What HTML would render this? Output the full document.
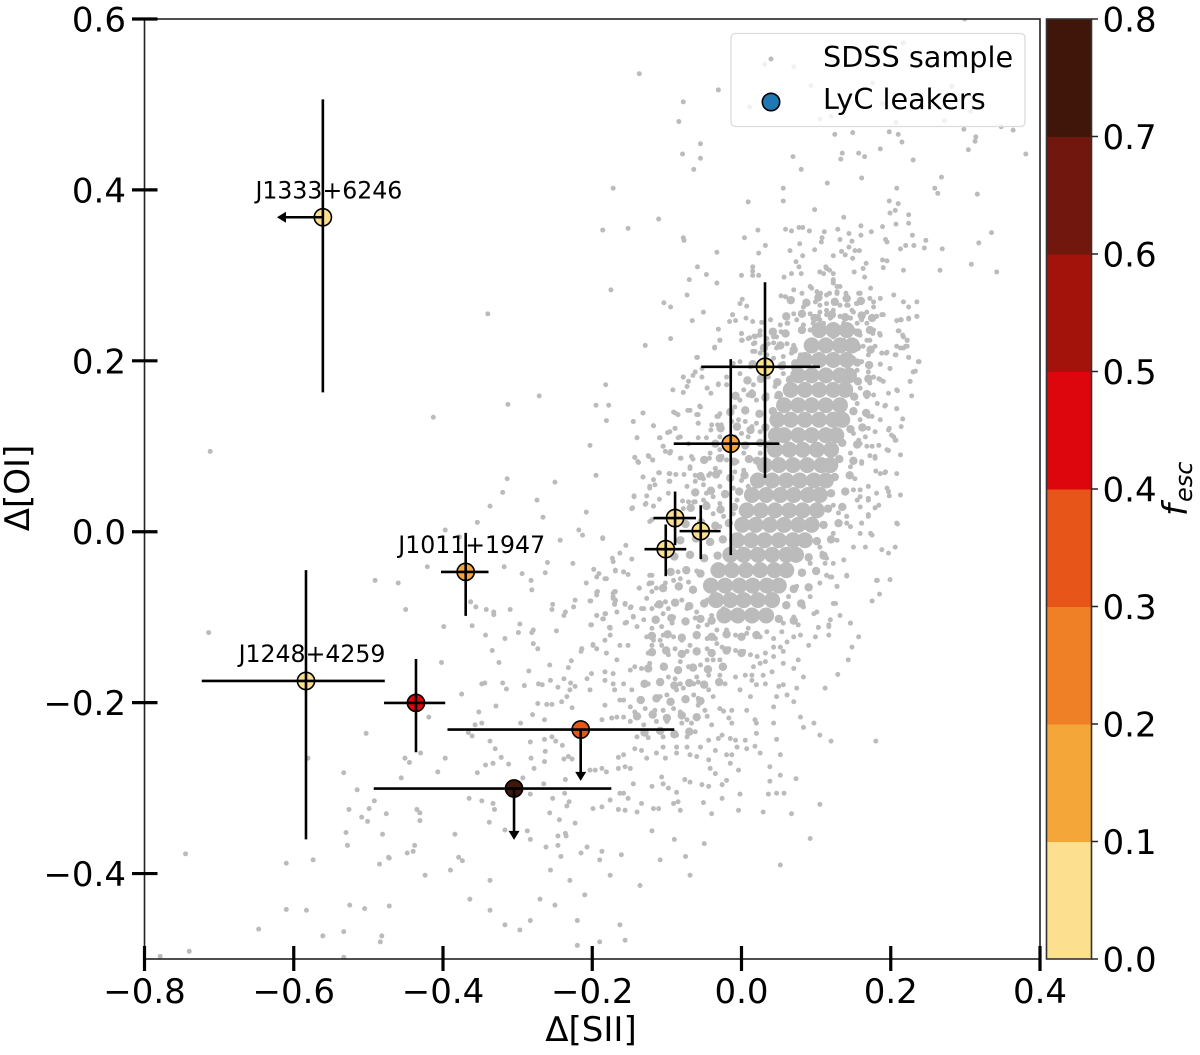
<!DOCTYPE html>
<html lang="en">
<head>
<meta charset="utf-8">
<title>Delta SII vs Delta OI</title>
<style>
html,body{margin:0;padding:0;background:#fff;}
svg{display:block;font-family:"DejaVu Sans","Liberation Sans",sans-serif;}
</style>
</head>
<body>
<svg id="chart" xmlns="http://www.w3.org/2000/svg" width="1200" height="1055" viewBox="0 0 1200 1055">
<defs><clipPath id="plot-clip"><rect x="144.5" y="19" width="895.5" height="940"/></clipPath></defs>
<g id="points" clip-path="url(#plot-clip)"></g>
<g id="leakers"></g>
<g id="axes"></g>
<g id="colorbar"></g>
<g>
<rect x="731" y="33.5" width="294" height="93" rx="4" fill="#fff" fill-opacity="0.8" stroke="#dcdcdc" stroke-width="1.3"/>
<circle cx="771" cy="59" r="2.5" fill="#bbb"/>
<text x="823" y="67" font-size="28.7" fill="#000">SDSS sample</text>
<circle cx="771" cy="102" r="8.7" fill="#1f77b4" stroke="#000" stroke-width="1.6"/>
<text x="823" y="109" font-size="28.7" fill="#000">LyC leakers</text>
</g>
<text x="591" y="1041" font-size="34" text-anchor="middle" fill="#000">Δ[SII]</text>
<text transform="translate(29,488) rotate(-90)" font-size="34" text-anchor="middle" fill="#000">Δ[OI]</text>
<text transform="translate(1187,516) rotate(-90)" fill="#000" font-style="italic" font-size="34">f<tspan font-size="24" dy="5" dx="2">esc</tspan></text>
</svg>
<script>
// SDSS comparison sample values: [delta SII, delta OI]
const sdssCoreClumps = [
[.104,.236],[.123,.236],[.141,.236],
[.094,.218],[.113,.218],[.132,.218],[.148,.218],
[.085,.201],[.104,.201],[.123,.201],[.141,.201],
[.076,.183],[.094,.183],[.113,.183],[.132,.183],[.144,.183],
[.066,.166],[.085,.166],[.104,.166],[.123,.166],[.139,.166],
[.057,.148],[.076,.148],[.094,.148],[.113,.148],[.132,.148],
[.048,.131],[.066,.131],[.085,.131],[.104,.131],[.123,.131],[.135,.131],
[.046,.113],[.057,.113],[.076,.113],[.094,.113],[.113,.113],[.127,.113],
[.045,.096],[.064,.096],[.082,.096],[.101,.096],[.120,.096],
[.031,.078],[.050,.078],[.069,.078],[.088,.078],[.107,.078],[.119,.078],
[.022,.060],[.041,.060],[.060,.060],[.078,.060],[.097,.060],[.113,.060],
[.014,.043],[.033,.043],[.052,.043],[.070,.043],[.089,.043],[.105,.043],
[.007,.025],[.026,.025],[.045,.025],[.064,.025],[.082,.025],[.101,.025],
[.001,.008],[.019,.008],[.038,.008],[.057,.008],[.076,.008],[.094,.008],
[-.006,-.010],[.013,-.010],[.031,-.010],[.050,-.010],[.069,-.010],[.085,-.010],
[-.015,-.027],[.003,-.027],[.022,-.027],[.041,-.027],[.060,-.027],[.073,-.027],
[-.031,-.045],[-.013,-.045],[.006,-.045],[.025,-.045],[.044,-.045],[.060,-.045],
[-.041,-.063],[-.022,-.063],[-.003,-.063],[.015,-.063],[.034,-.063],[.050,-.063],
[-.034,-.080],[-.015,-.080],[.003,-.080],[.022,-.080],[.041,-.080],
[-.023,-.098],[-.005,-.098],[.014,-.098],[.033,-.098]
];
const sdssMidDensity = [
[.066,.271],[.087,.268],[.103,.274],[.125,.269],[.141,.273],[.160,.270],
[.060,.252],[.081,.255],[.098,.250],[.121,.254],[.139,.251],[.161,.253],[.175,.250],
[.042,.234],[.059,.232],[.081,.236],[.156,.233],[.172,.236],
[.030,.215],[.052,.218],[.070,.213],[.155,.216],[.173,.213],
[.015,.196],[.037,.198],[.054,.194],[.072,.197],[.155,.198],[.171,.195],
[.008,.177],[.026,.179],[.048,.175],[.065,.178],[.156,.176],[.170,.179],
[-.008,.159],[.014,.161],[.032,.157],[.050,.160],[.151,.158],[.168,.161],
[-.015,.140],[.005,.142],[.024,.138],[.042,.141],[.150,.141],[.167,.139],
[-.028,.121],[-.006,.123],[.012,.119],[.032,.122],[.146,.120],[.162,.122],
[-.035,.103],[-.014,.105],[.005,.101],[.025,.104],[.037,.102],[.135,.104],[.155,.102],
[-.050,.084],[-.029,.086],[-.010,.082],[.010,.085],[.021,.083],[.131,.085],[.150,.083],
[-.055,.065],[-.034,.067],[-.015,.063],[.004,.066],[.125,.064],[.145,.066],
[-.062,.046],[-.041,.048],[-.022,.044],[-.003,.047],[.120,.045],[.139,.047],
[-.068,.028],[-.047,.030],[-.028,.026],[-.010,.029],[.116,.027],[.135,.029],
[-.075,.009],[-.054,.011],[-.035,.007],[-.017,.010],[.110,.008],[.130,.010],
[-.082,-.010],[-.061,-.008],[-.042,-.012],[-.025,-.009],[.101,-.011],[.120,-.009],
[-.090,-.029],[-.069,-.027],[-.050,-.031],[-.032,-.028],[.090,-.030],[.110,-.028],
[-.095,-.047],[-.074,-.045],[-.055,-.049],[.081,-.048],[.100,-.046],
[-.105,-.066],[-.084,-.064],[-.065,-.068],[.070,-.067],[.090,-.065],
[-.110,-.085],[-.089,-.083],[-.070,-.087],[-.050,-.084],[.060,-.086],[.080,-.084],
[-.115,-.103],[-.094,-.101],[-.075,-.105],[-.055,-.102],[-.040,-.104],[.050,-.102],[.070,-.104],
[-.120,-.122],[-.099,-.120],[-.080,-.124],[-.060,-.121],[-.040,-.123],[-.020,-.120],[.000,-.123],[.020,-.121],
[-.120,-.141],[-.101,-.139],[-.080,-.143],[-.060,-.140],[-.040,-.142],[-.020,-.139],[.000,-.142],
[-.125,-.160],[-.104,-.158],[-.085,-.162],[-.065,-.159],[-.045,-.161],[-.025,-.158],
[-.130,-.178],[-.109,-.176],[-.090,-.180],[-.070,-.177],[-.050,-.179],[-.030,-.176],
[-.135,-.197],[-.114,-.195],[-.095,-.199],[-.075,-.196],[-.055,-.198],
[-.140,-.216],[-.119,-.214],[-.100,-.218],[-.080,-.215],[-.060,-.217],
[-.130,-.235],[-.109,-.233],[-.090,-.237],[-.070,-.234]
];
const sdssUpperPoints = [
[-.137,.536],[-.031,.517],[-.078,.503],[-.084,.480],[-.055,.454],[-.079,.442],[-.055,.437],[-.064,.424],[-.172,.402],[.069,.439],[.080,.424],[.056,.402],[.115,.408],[.161,.414],[.125,.465],[.149,.467],[.198,.468],[.210,.465],[.215,.456],[.186,.448],[.135,.443],[.133,.436],[.157,.443],[.165,.439],[.230,.435],[.298,.471],[.314,.462],[.313,.457],[.304,.447],[.348,.474],[.364,.470],[.381,.442],[.268,.415],[.259,.402],[.263,.396],[.316,.395],[.208,.402],[.198,.387],[.210,.384],[.009,.386],[.056,.387],[.098,.377],[.137,.368],[.206,.376],[.199,.373],[.224,.371],[.224,.361],[.207,.360],[.189,.357],[.160,.358],[-.111,.366],[-.152,.355],[-.186,.353],[.022,.353],[.059,.354],[.067,.352],[.077,.356],[.082,.356],[.091,.352],[.111,.351],[.129,.354],[.144,.349],[.160,.347],[.174,.351],[.229,.347],[.335,.350],[-.078,.344],[-.077,.341],[.004,.344],[.108,.344],[.107,.339],[.132,.342],[.148,.340],[.193,.342],[.195,.339],[.247,.341],[.318,.338],[.032,.335],[.078,.337],[.065,.329],[.098,.330],[-.033,.327],[.023,.326],[.144,.333],[.220,.335],[.231,.335],[.245,.332],[.269,.331],[.213,.331],[.134,.328],[.152,.329],[.158,.329],[.123,.323],[.139,.324],[.082,.323],[-.059,.310],[-.047,.301],[-.070,.295],[-.033,.291],[.015,.310],[.015,.305],[.015,.300],[.000,.300],[.023,.300],[.308,.313],[.342,.304],[.266,.306],[.217,.306],[.190,.309],[.189,.318],[.195,.317],[.149,.320],[.167,.314],[.163,.308],[.151,.304],[.165,.298],[.073,.316],[.077,.310],[.067,.302],[.057,.298],[.080,.302],[.105,.304],[.113,.310],[.123,.302],[.118,.306],[-.073,.277],[-.104,.268],[-.095,.263],[-.051,.257],[-.066,.247],[-.031,.237],[-.029,.224],[-.095,.226],[-.129,.218],
[.031,.547],[.070,.544],[.217,.572],[.093,.522],[.176,.525],[.282,.521],[.011,.497],[.189,.501],[.307,.492],[.105,.483],[.120,.486],[.207,.479],[.272,.481],[.299,.600]
];
const sdssHaloPoints = [
[-.002,.267],[.001,.272],[.007,.264],[-.012,.254],[-.016,.246],[-.008,.247],[.006,.250],[.015,.246],[.027,.245],[.039,.248],[.000,.232],[.011,.227],[.001,.224],[.017,.229],[.023,.230],[.025,.235],[.018,.221],[.015,.211],[.025,.209],[.036,.220],[.043,.221],[.047,.228],[.053,.234],[.059,.232],[.052,.242],[.062,.244],[.053,.276],[.059,.275],[.070,.283],[.081,.279],[.094,.285],[.106,.279],[.118,.279],[.128,.279],[.140,.279],[.157,.279],[.173,.285],[.186,.273],[.204,.277],[.217,.269],[.224,.263],[.235,.269],[.177,.269],[.168,.257],[.190,.254],[.208,.247],[.214,.248],[.224,.250],[.235,.252],[.181,.252],[.176,.232],[.185,.232],[.211,.235],[.216,.230],[.222,.224],[.220,.217],[.213,.215],[.188,.209],[.194,.209],[.206,.207],[.224,.204],[.238,.199],[.186,.196],[.199,.191],[.233,.188],[.226,.176],
[-.036,.215],[-.059,.204],[-.182,.172],[-.092,.166],[-.178,.148],[-.132,.139],[-.181,.130],[-.145,.129],[-.118,.124],[-.089,.139],[-.072,.142],[-.060,.137],[-.140,.110],[-.110,.110],[-.099,.116],[-.089,.121],[-.046,.168],[-.078,.181],[-.071,.176],[-.062,.187],[-.031,.172],[-.055,.146],[-.058,.127],[-.031,.135],[-.032,.125],[-.041,.119],[-.082,.111],[-.105,.100],[-.095,.094],[-.143,.087],[-.124,.088],[-.119,.084],[-.139,.082],[-.082,.086],[-.067,.088],[-.042,.092],[-.026,.088],[-.069,.076],[-.062,.066],[-.042,.068],[-.035,.074],[-.132,.064],[-.110,.069],[-.097,.068],[-.088,.067],[-.077,.067],[-.116,.055],[-.123,.051],[-.144,.042],[-.146,.028],[-.129,.032],[-.118,.030],[-.096,.059],[-.098,.045],[-.073,.053],[-.051,.055],[-.047,.045],[-.062,.035],[-.051,.037],[-.120,.014],[-.123,.012],[-.186,-.007],
[.184,.179],[.190,.176],[.208,.166],[.208,.144],[.193,.148],[.177,.160],[.198,.121],[.204,.111],[.207,.107],[.195,.096],[.179,.088],[.168,.100],[.186,.068],[.193,.070],[.161,.082],[.208,.068],[.213,.043],[.197,.047],[.181,.045],[.170,.037],[.159,.049],[.155,.037],[.141,.018],[.141,.010],[.161,.010],[.170,.020],[.184,.031],[.208,.010],[.173,-.002],[.150,-.018],[.166,-.018],[.188,-.021],[.197,-.025],[.206,-.018],[.119,-.053],[.141,-.051],[.128,-.064],[.181,-.057],[.199,-.056],[.185,-.073],[.123,-.084],[.146,-.107],[.117,-.109]
];
const sdssCoreLeftPoints = [
[.061,.244],[.074,.248],[.083,.242],[.043,.228],[.034,.226],[.025,.230],[.018,.228],[.009,.226],[.000,.224],[.016,.220],[.000,.232],[-.029,.224],[-.036,.216],[.018,.211],[.029,.217],[.047,.215],[.061,.220],[.070,.218],[.079,.207],[.067,.209],[.056,.205],[.043,.203],[.034,.207],[.025,.197],[.012,.193],[-.002,.199],[-.011,.197],[-.060,.204],[-.053,.191],[-.065,.183],[-.078,.181],[-.073,.170],[-.053,.181],[-.078,.163],[-.046,.168],[-.041,.162],[-.031,.173],[-.020,.172],[-.020,.181],[-.002,.185],[.007,.177],[.016,.172],[.025,.177],[.036,.181],[.045,.170],[.056,.185],[.070,.191],[.081,.187],[.065,.174],[.047,.158],[.034,.160],[.020,.154],[.009,.160],[-.002,.154],[-.009,.146],[.014,.164],[.003,.166],[.056,.197],[.083,.205],[-.058,.137],[-.056,.147],[-.069,.142],[-.091,.140],[-.085,.137],[-.058,.127],[-.029,.138],[-.033,.135],[-.040,.125],[-.027,.125],[-.013,.129],[-.004,.131],[.005,.129],[.014,.123],[.020,.127],[.025,.117],[.009,.111],[.000,.115],[-.009,.111],[-.029,.111],[-.047,.110],[-.058,.110],[-.071,.103],[-.085,.110],[-.105,.100],[-.102,.094],[-.096,.092],[-.109,.110],[-.096,.117],[-.118,.124],[-.089,.121],[-.140,.110],[-.145,.129],[-.132,.139],[-.143,.087],[-.138,.081],[-.125,.089],[-.119,.084],[-.081,.086],[-.065,.085],[-.043,.086],[-.029,.096],[.025,.092],[.018,.084],[.003,.092],[-.006,.082],[-.020,.084],[.003,.072],[-.009,.070],[-.029,.070],[-.035,.074],[-.044,.066],[-.051,.062],[-.062,.059],[-.069,.074],[-.096,.068],[-.111,.069],[-.118,.061],[-.132,.064],[-.097,.059],[-.123,.053],[-.127,.042],[-.144,.041],[-.128,.033],[-.118,.030],[-.110,.038],[-.147,.027],[-.079,.036],[-.071,.035],[-.064,.035],[-.078,.027],
[-.029,.053],[-.038,.041],[-.047,.033],[-.029,.033],[-.038,.021],[-.024,.018],[-.029,.006],[-.011,.051],[-.006,.037],[-.011,.021],[-.002,.006],[.000,.060],[.009,.053]
];
const sdssCoreRightPoints = [
[.213,.248],[.224,.249],[.235,.252],[.210,.235],[.217,.228],[.222,.224],[.208,.217],[.222,.217],[.217,.215],[.207,.207],[.224,.204],[.195,.210],[.188,.209],[.199,.191],[.186,.196],[.237,.199],[.230,.187],[.226,.176],[.209,.165],[.228,.159],[.197,.162],[.192,.147],[.182,.150],[.208,.144],[.216,.132],[.197,.119],[.214,.123],[.201,.113],[.206,.107],[.213,.090],[.197,.095],[.192,.069],[.180,.071],[.172,.089],[.179,.086],[.161,.080],[.175,.100],[.166,.111],[.179,.117],[.170,.121],[.186,.131],[.175,.135],[.184,.101],[.186,.178],[.170,.187],[.177,.181],[.172,.174],[.159,.168],[.168,.158],[.155,.150],[.170,.135],[.159,.131],[.150,.115],[.159,.103],[.146,.092],[.157,.107],[.146,.076],[.152,.062],[.170,.053],[.150,.049],[.159,.041],[.195,.051],[.198,.042],[.170,.039],[.179,.028],[.159,.029],[.170,.018],[.209,.009],[.141,.018],[.130,.022],[.123,.031],[.146,.006],[.161,.010],[.175,-.004],[.159,-.002],[.123,-.002],[.132,.010],
[.092,.287],[.101,.281],[.123,.291],[.128,.281],[.105,.265],[.114,.267],[.123,.259],[.132,.265],[.143,.265],[.154,.267],[.150,.257],[.161,.248],[.146,.250],[.132,.252],[.114,.254],[.105,.248],[.096,.244],[.092,.236],[.105,.236],[.123,.240],[.137,.236],[.150,.236],[.159,.230],[.168,.224],[.150,.220],[.137,.224],[.123,.228],[.083,.263],[.070,.255],[.092,.255],[.110,.302],[.114,.308],[.123,.295],[.132,.287],[.159,.279],[.172,.273],[.177,.263],[.188,.254],[.181,.252],[.168,.244],[.177,.236],[.186,.230],[.172,.224],[.163,.217],[.179,.217],[.170,.207],[.161,.199],[.150,.203],[.155,.189],
[.105,.257],[.114,.259],[.123,.255],[.132,.252],[.141,.265],[.148,.259],[.155,.267],[.103,.252],[.110,.244],[.119,.250],[.137,.244],[.146,.250],[.155,.244],[.128,.287],[.123,.294],[.128,.279],[.114,.277],[.099,.269]
];
const sdssLowerPoints = [
[-.155,-.016],[-.163,-.025],[-.173,-.031],[-.172,-.035],[-.147,-.032],[-.183,-.055],[-.169,-.045],[-.158,-.047],[-.137,-.066],[-.123,-.051],[-.120,-.060],[-.172,-.072],[-.156,-.084],[-.148,-.088],[-.169,-.080],[-.183,-.096],[-.177,-.112],[-.154,-.106],[-.145,-.099],[-.134,-.090],
[-.491,-.057],[-.460,-.060],[-.450,-.091],[-.421,-.041],[-.714,-.118],[-.399,-.111],[-.361,-.110],[-.402,-.153],[-.375,-.190],[-.343,-.121],[-.317,-.125],[-.334,-.139],[-.325,-.153],[-.299,-.118],[-.297,-.108],[-.352,-.211],[-.329,-.204],[-.419,-.217],[-.503,-.236],[-.357,-.226],[-.348,-.224],[-.366,-.235],[-.361,-.239],[-.337,-.245],[-.330,-.254],[-.430,-.259],[-.451,-.265],[-.445,-.270],[-.397,-.265],[-.581,-.265],[-.322,-.264],[-.333,-.271],[-.343,-.273],[-.312,-.272],[-.354,-.282],[-.407,-.281],[-.533,-.282],[-.456,-.288],[-.515,-.302],[-.492,-.315],[-.526,-.325],[-.499,-.324],[-.509,-.334],[-.501,-.339],[-.476,-.330],[-.435,-.325],[-.431,-.329],[-.530,-.352],[-.481,-.354],[-.528,-.367],[-.384,-.354],[-.745,-.377],[-.448,-.376],[-.440,-.374],[-.473,-.381],[-.379,-.381],[-.365,-.312],[-.348,-.315],[-.333,-.318],[-.331,-.325],[-.338,-.340],[-.317,-.349],[-.287,-.350],[-.283,-.360],[-.283,-.307],[-.293,-.288],[-.265,-.295],[-.236,-.290],[-.253,-.312],[-.237,-.306],[-.231,-.316],[-.234,-.321],[-.257,-.329],[-.244,-.337],[-.223,-.341],[-.246,-.356],[-.236,-.353],[-.235,-.356],[-.262,-.369],[-.246,-.367],[-.242,-.380],[-.215,-.376],[-.207,-.369],[-.187,-.374],[-.161,-.378],
[-.282,-.057],[-.281,-.068],[-.294,-.049],[-.318,-.041],[-.263,-.048],[-.260,-.036],[-.226,-.037],[-.253,-.085],[-.254,-.091],[-.223,-.080],[-.225,-.088],[-.236,-.094],[-.238,-.098],[-.332,-.094],[-.332,-.097],[-.342,-.091],[-.356,-.088],[-.363,-.082],[-.310,-.091],[-.279,-.115],[-.281,-.118],[-.248,-.116],[-.201,-.109],[-.194,-.098],[-.182,-.096],[-.186,-.102],[-.176,-.112],[-.279,-.131],[-.273,-.137],[-.214,-.137],[-.215,-.140],[-.199,-.132],[-.194,-.137],[-.257,-.156],[-.285,-.163],[-.232,-.159],[-.228,-.151],[-.238,-.172],[-.256,-.174],[-.272,-.178],[-.267,-.179],[-.291,-.180],[-.315,-.184],[-.320,-.177],[-.348,-.178],[-.344,-.177],[-.229,-.177],[-.230,-.185],[-.246,-.182],[-.223,-.181],[-.261,-.202],[-.254,-.202],[-.273,-.201],[-.234,-.193],[-.241,-.199],[-.227,-.206],[-.280,-.214],[-.264,-.220],[-.296,-.224],[-.283,-.246],[-.264,-.243],[-.254,-.240],[-.249,-.245],[-.240,-.250],[-.263,-.257],[-.282,-.265],[-.264,-.269],[-.278,-.277],[-.238,-.266],[-.232,-.263],[-.227,-.266],
[-.198,-.044],[-.191,-.049],[-.194,-.053],[-.169,-.046],[-.158,-.047],[-.152,-.050],[-.181,-.055],[-.208,-.060],[-.193,-.070],[-.194,-.074],[-.169,-.070],[-.172,-.076],[-.202,-.081],[-.169,-.081],[-.170,-.085],[-.156,-.085],[-.148,-.088],[-.137,-.066],[-.124,-.061],[-.213,-.004],[-.186,-.008]
];
const sdssTailPoints = [
[-.085,-.047],[-.073,-.047],[-.060,-.046],[-.082,-.055],[-.071,-.059],[-.091,-.057],[-.102,-.060],[-.120,-.051],[-.123,-.060],[-.114,-.066],[-.120,-.070],[-.127,-.078],[-.137,-.066],[-.170,-.070],[-.172,-.078],[-.156,-.084],[-.149,-.089],[-.170,-.084],[-.167,-.094],[-.194,-.098],[-.185,-.102],[-.203,-.081],[-.194,-.071],[-.131,-.090],[-.120,-.090],[-.114,-.086],[-.102,-.082],[-.098,-.090],[-.105,-.096],[-.091,-.100],[-.080,-.080],[-.073,-.090],[-.060,-.094],[-.062,-.101],[-.046,-.080],[-.033,-.082],[-.024,-.090],[-.040,-.098],[-.024,-.100],[-.011,-.098],[-.002,-.100],
[-.058,-.111],[-.046,-.109],[-.033,-.115],[-.020,-.115],[-.008,-.121],[.007,-.119],[.020,-.100],[.029,-.103],[.025,-.123],[.034,-.117],[.009,-.113],[-.093,-.107],[-.107,-.111],[-.120,-.113],[-.131,-.103],[-.145,-.100],[-.156,-.107],[-.140,-.111],[-.176,-.113],[-.202,-.109],[-.127,-.123],[-.120,-.121],[-.105,-.121],[-.091,-.123],[-.080,-.127],[-.069,-.133],[-.060,-.123],[-.046,-.125],[-.035,-.125],[-.026,-.135],[-.017,-.137],[-.008,-.139],[.003,-.140],[.012,-.144],[.021,-.146],[.032,-.142],[.043,-.135],[.052,-.135],[.061,-.129],[.070,-.123],[.079,-.121],[.090,-.133],[.099,-.123],[.117,-.121],[.117,-.111],[.103,-.112],[.076,-.109],[.054,-.117],[.043,-.125],[.056,-.107],[.119,-.103],[.132,-.098],[.146,-.107],[.157,-.123],[.148,-.135],[.143,-.150],[.129,-.167],[.112,-.183],[.076,-.150],[.070,-.160],[.083,-.170],[.056,-.140],[.056,-.154],[.043,-.146],[.032,-.152],[.025,-.154],[.016,-.158],[.014,-.168],[.029,-.168],[.041,-.164],[.050,-.181],[.056,-.179],[.074,-.183],[.047,-.193],[.061,-.191],[.070,-.199],[.043,-.205],[.079,-.217],[.097,-.224],[.083,-.229],[.105,-.238],[.120,-.245],[.180,-.245],[.052,-.261],[.038,-.275],[.052,-.285],[.073,-.289],[.038,-.292],[.036,-.307],[.047,-.306],[.057,-.306],[.105,-.319],[.067,-.330],[.029,-.328],[-.004,-.326],[-.002,-.307],[-.051,-.317],[-.026,-.312],[-.040,-.330],[-.091,-.318],[-.085,-.316],[-.082,-.326],[-.118,-.324],[-.111,-.324],[-.134,-.318],[-.140,-.328],[-.156,-.326],[-.165,-.325],[-.176,-.314],[-.199,-.324],[-.187,-.322],[-.158,-.306],[-.163,-.306],[-.152,-.312],[-.145,-.295],[-.120,-.298],[-.107,-.287],[-.105,-.295],[-.098,-.300],[-.087,-.305],[-.076,-.290],[-.069,-.293],[-.053,-.296],[-.044,-.298],[-.026,-.296],[-.020,-.291],[-.035,-.283],[-.042,-.277],[-.004,-.279],[-.015,-.271],[-.020,-.261],[-.013,-.261],[-.035,-.256],[-.044,-.267],[-.060,-.263],[-.069,-.261],[-.073,-.252],[-.055,-.252],[-.087,-.252],[-.087,-.259],[-.105,-.252],[-.102,-.265],[-.114,-.259],[-.127,-.265],[-.134,-.256],[-.143,-.254],[-.158,-.261],[-.165,-.264],[-.156,-.275],[-.149,-.277],[-.165,-.277],[-.181,-.281],[-.187,-.277],[-.196,-.279],[-.203,-.279],[-.140,-.240],[-.125,-.241],[-.105,-.240],[-.087,-.238],[-.073,-.240],[-.062,-.234],[-.044,-.244],[-.031,-.242],[-.026,-.238],[-.015,-.242],[-.008,-.244],[.005,-.244],[.018,-.251],[.025,-.259],[-.006,-.252],[.007,-.254],[.020,-.236],[.047,-.243],
[-.073,-.220],[-.067,-.224],[-.080,-.224],[-.046,-.216],[-.040,-.226],[-.029,-.207],[-.024,-.210],[-.013,-.209],[.007,-.209],[.018,-.220],[.020,-.224],[-.013,-.224],[-.017,-.218],[.043,-.224],[-.064,-.191],[-.058,-.195],[-.058,-.203],[-.049,-.209],[-.091,-.207],[-.082,-.211],[-.105,-.209],[-.116,-.209],[-.129,-.207],[-.143,-.211],[-.149,-.205],[-.163,-.197],[-.158,-.197],[-.183,-.203],[-.187,-.220],[-.174,-.218],[-.167,-.217],[-.158,-.217],[-.149,-.222],[-.131,-.226],[-.114,-.222],[-.100,-.222],[-.109,-.193],[-.100,-.191],[-.087,-.185],[-.078,-.183],[-.098,-.170],[-.089,-.172],[-.082,-.178],[-.064,-.178],[-.058,-.176],[-.044,-.185],[-.038,-.193],[-.022,-.178],[-.008,-.170],[.005,-.168],[-.002,-.185],[.014,-.174],[.012,-.193],[.020,-.179],[.032,-.178],[-.125,-.178],[-.147,-.185],[-.158,-.178],[-.172,-.178],[-.183,-.174],[-.201,-.166],[-.207,-.172],[-.203,-.185],[-.170,-.185],[-.183,-.164],[-.172,-.166],[-.149,-.162],[-.143,-.158],[-.134,-.160],[-.123,-.154],[-.105,-.156],[-.098,-.144],[-.082,-.152],[-.071,-.158],[-.055,-.156],[-.046,-.150],[-.038,-.150],[-.029,-.150],[-.060,-.170],[-.044,-.168],[-.029,-.168],[-.125,-.142],[-.120,-.133],[-.107,-.133],[-.089,-.137],[-.073,-.140],[-.060,-.142],[-.046,-.137],[-.033,-.131],[-.163,-.133],[-.152,-.133],[-.181,-.142],[-.167,-.150],[-.199,-.133],[-.183,-.127],[-.176,-.121],[-.214,-.137],[-.118,-.127],[-.109,-.127],
[.074,-.064],[.092,-.076],[.101,-.094],[.097,-.096],[.083,-.088],[.063,-.076],[.070,-.100],[.105,-.018],[.114,-.031],[.123,-.037],[.112,-.037],[.137,-.033],[.108,-.025],[.128,-.010],[.083,-.047],[.092,-.037],[.105,-.060],[.128,-.064],[.126,-.084],[.141,-.052],[.121,-.053],[.114,-.051],[.175,-.081],[.182,-.057]
];
const sdssFarPoints = [
[-.779,-.497],[-.740,-.491],[-.610,-.388],[-.574,-.384],[-.485,-.389],[-.472,-.382],[-.610,-.442],[-.583,-.443],[-.525,-.437],[-.505,-.441],[-.472,-.438],[-.647,-.465],[-.561,-.473],[-.533,-.468],[-.482,-.473],[-.484,-.480],[-.533,-.498],
[-.19,-.48],[-.156,-.478],[-.22,-.455],[-.25,-.437],[-.27,-.43],[-.297,-.466],[-.337,-.443],[-.337,-.408],[-.374,-.385],[-.39,-.396],[-.283,-.455],[-.256,-.396],[-.21,-.425],[-.176,-.402],[-.136,-.414],[-.109,-.384],[-.069,-.402],[-.19,-.384],[-.23,-.408],[-.163,-.46],[-.22,-.484],[-.317,-.46],[-.364,-.43],[-.424,-.402],[-.438,-.367],[-.431,-.338],[-.12,-.35],[-.09,-.36],[-.05,-.365],[-.075,-.38],[.052,-.39],[.092,-.359],
[-.34,.255],[-.413,.134],[-.271,.159],[-.313,.149],[-.314,.062],[-.203,.101],[-.25,.058],[-.274,.037],[-.337,.030],[-.32,.046],[-.266,.017],[-.397,.002],[-.354,.011],[-.378,-.006],[-.208,.023],[-.218,.002],[-.195,.066],[-.243,-.01],[-.175,.283],[-.195,.148],[-.712,.094]
];

// LyC leakers
const leakerFesc = [.05,.05,.15,.05,.05,.05,.15,.05,.45,.35,.75];
const leakerX = [-.561,.0315,-.0144,-.089,-.0546,-.1015,-.3696,-.5836,-.4362,-.2155,-.3048];
const leakerY = [.368,.193,.103,.016,.0007,-.0204,-.047,-.1746,-.2003,-.2315,-.3005];
const leakerXLow = [null,-.054,-.0908,-.118,-.083,-.130,-.4027,-.7233,-.479,-.394,-.4928];
const leakerXHigh = [null,.105,.0507,-.061,-.028,-.074,-.339,-.478,-.397,-.090,-.1744];
const leakerYLow = [.163,.063,-.0274,-.0157,-.032,-.052,-.0985,-.36,-.258,null,null];
const leakerYHigh = [.506,.292,.202,.047,.031,.0085,-.0013,-.045,-.149,null,null];
const leakerXLimit = [-.6225,null,null,null,null,null,null,null,null,null,null];
const leakerYLimit = [null,null,null,null,null,null,null,null,null,-.2916,-.3606];
const leakerLabels = ["J1333+6246","","","","","","J1011+1947","J1248+4259","","",""];

// Axis and colorbar tick values and labels
const xTicks = [-.8,-.6,-.4,-.2,0,.2,.4];
const xTickLabels = ["−0.8","−0.6","−0.4","−0.2","0.0","0.2","0.4"];
const yTicks = [.6,.4,.2,0,-.2,-.4];
const yTickLabels = ["0.6","0.4","0.2","0.0","−0.2","−0.4"];
const cbTicks = [0,.1,.2,.3,.4,.5,.6,.7,.8];
const cbTickLabels = ["0.0","0.1","0.2","0.3","0.4","0.5","0.6","0.7","0.8"];
const cbBandColors = ["#fde08f","#f4a738","#ef8026","#e75518","#dc060c","#a3130c","#71170d","#40150a"];

const NS = "http://www.w3.org/2000/svg";
const sx = v => 144.5 + (v + .8) / 1.2 * 895.5;
const sy = v => 19 + (.6 - v) / 1.1 * 940;
const cy = v => 959 - v / .8 * 940;
const bandColor = f => cbBandColors[Math.min(cbBandColors.length - 1, Math.floor(f * 10))];

function mk(parent, tag, attrs, txt) {
  const el = document.createElementNS(NS, tag);
  for (const k in attrs) el.setAttribute(k, attrs[k]);
  if (txt !== undefined) el.textContent = txt;
  parent.appendChild(el);
  return el;
}
function lineEl(parent, x1, y1, x2, y2, color, w) {
  return mk(parent, "line", {x1: x1, y1: y1, x2: x2, y2: y2, stroke: color, "stroke-width": w});
}

// Grey sample
const pts = document.getElementById("points");
for (const p of sdssCoreClumps) {
  const c = mk(pts, "circle", {cx: sx(p[0]), cy: sy(p[1]), r: 8, fill: "#bbb"});
  
  
}
for (const p of sdssMidDensity) {
  const c = mk(pts, "circle", {cx: sx(p[0]), cy: sy(p[1]), r: 4.2, fill: "#bbb"});
  
  
}
for (const group of [sdssUpperPoints, sdssHaloPoints, sdssCoreLeftPoints, sdssCoreRightPoints, sdssLowerPoints, sdssTailPoints, sdssFarPoints]) {
  for (const p of group) {
    const c = mk(pts, "circle", {cx: sx(p[0]), cy: sy(p[1]), r: 2.5, fill: "#bbb"});
    
    
  }
}

// Axes frame and ticks
const ax = document.getElementById("axes");
const frame = mk(ax, "rect", {x: 144.5, y: 19, width: 895.5, height: 940, fill: "none", stroke: "#222", "stroke-width": 1.6});


xTicks.forEach((t, i) => {
  const m = lineEl(ax, sx(t), 946, sx(t), 971, "#000", 3.2);
  
  
  const l = mk(ax, "text", {x: sx(t), y: 1003, "font-size": 34, "text-anchor": "middle", fill: "#000"}, xTickLabels[i]);
  
  
});
yTicks.forEach((t, i) => {
  const m = lineEl(ax, 132, sy(t), 157.5, sy(t), "#000", 3.2);
  
  
  const l = mk(ax, "text", {x: 126, y: sy(t) + 12.5, "font-size": 34, "text-anchor": "end", fill: "#000"}, yTickLabels[i]);
  
  
});

// Leakers
const lk = document.getElementById("leakers");
leakerX.forEach((x, i) => {
  const px = sx(x), py = sy(leakerY[i]);
  const mark = mk(lk, "circle", {cx: px, cy: py, r: 8.6, fill: bandColor(leakerFesc[i]), stroke: "#000", "stroke-width": 1.6});
  
  
  if (leakerXLow[i] !== null) {
    const e = lineEl(lk, sx(leakerXLow[i]), py, sx(leakerXHigh[i]), py, "#000", 2.6);
    
    
  }
  if (leakerYLow[i] !== null) {
    const e = lineEl(lk, px, sy(leakerYLow[i]), px, sy(leakerYHigh[i]), "#000", 2.6);
    
    
  }
  if (leakerXLimit[i] !== null) {
    const tip = sx(leakerXLimit[i]);
    const e = lineEl(lk, px, py, tip + 6, py, "#000", 2.6);
    
    
    const h = mk(lk, "polygon", {points: `${tip},${py} ${tip + 9},${py - 5.5} ${tip + 9},${py + 5.5}`, fill: "#000"});
    
    
  }
  if (leakerYLimit[i] !== null) {
    const tip = sy(leakerYLimit[i]);
    const e = lineEl(lk, px, py, px, tip - 6, "#000", 2.6);
    
    
    const h = mk(lk, "polygon", {points: `${px},${tip} ${px - 5.5},${tip - 9} ${px + 5.5},${tip - 9}`, fill: "#000"});
    
    
  }
  if (leakerLabels[i]) {
    const t = mk(lk, "text", {x: px + 6, y: py - 19, "font-size": 23.6, "text-anchor": "middle", fill: "#000"}, leakerLabels[i]);
    
    
  }
});

// Colorbar
const cb = document.getElementById("colorbar");
cbBandColors.forEach((color, i) => {
  const top = cy((i + 1) / 10), bottom = cy(i / 10);
  const r = mk(cb, "rect", {x: 1046.5, y: top, width: 45, height: bottom - top + .5, fill: color});
  
  
});
const cbFrame = mk(cb, "rect", {x: 1046.5, y: 19, width: 45, height: 940, fill: "none", stroke: "#333", "stroke-width": 1.6});


cbTicks.forEach((t, i) => {
  const m = lineEl(cb, 1091.5, cy(t), 1098, cy(t), "#222", 1.5);
  
  
  const l = mk(cb, "text", {x: 1102.5, y: cy(t) + 12.5, "font-size": 34, fill: "#000"}, cbTickLabels[i]);
  
  
});
</script>
</body>
</html>
